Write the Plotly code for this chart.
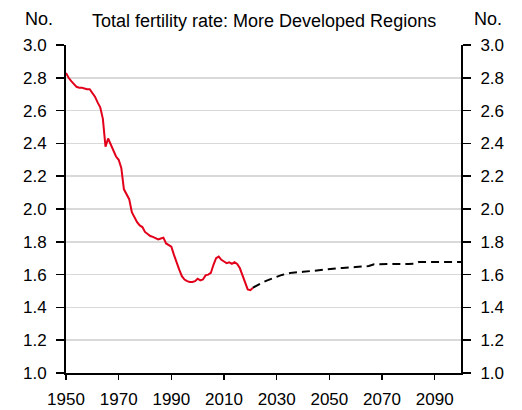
import plotly.graph_objects as go

# Historical (red) annual total fertility rate, More Developed Regions
hist_years = list(range(1950, 2022))
hist_values = [
    2.83, 2.80, 2.78, 2.76, 2.745, 2.74, 2.74, 2.735, 2.73, 2.73,   # 1950-1959
    2.71, 2.685, 2.65, 2.62, 2.55, 2.38, 2.43, 2.39, 2.35, 2.32,     # 1960-1969
    2.30, 2.25, 2.12, 2.09, 2.06, 1.98, 1.95, 1.92, 1.90, 1.89,      # 1970-1979
    1.86, 1.845, 1.835, 1.83, 1.82, 1.815, 1.82, 1.825, 1.79, 1.78,  # 1980-1989
    1.77, 1.72, 1.67, 1.63, 1.59, 1.57, 1.56, 1.555, 1.555, 1.56,    # 1990-1999
    1.575, 1.565, 1.57, 1.595, 1.60, 1.61, 1.66, 1.70, 1.71, 1.69,   # 2000-2009
    1.68, 1.67, 1.675, 1.665, 1.675, 1.665, 1.64, 1.60, 1.56, 1.51,  # 2010-2019
    1.505, 1.52,                                                      # 2020-2021
]

# Projection (black dashed)
proj_years = [2021, 2022, 2024, 2026, 2028, 2030, 2032, 2034, 2036, 2040,
              2045, 2050, 2055, 2060, 2065, 2067, 2070, 2075, 2080, 2082,
              2084, 2090, 2095, 2100]
proj_values = [1.52, 1.53, 1.547, 1.562, 1.575, 1.588, 1.598, 1.606, 1.612, 1.617,
               1.625, 1.635, 1.641, 1.646, 1.652, 1.663, 1.665, 1.665, 1.665, 1.666,
               1.677, 1.677, 1.677, 1.677]

x_ticks = [1950, 1970, 1990, 2010, 2030, 2050, 2070, 2090]
title_text = "Total fertility rate: More Developed Regions"
unit_label = "No."

FONT = "Liberation Sans, Arial, sans-serif"
TICK_SIZE = 17
TEXT_SIZE = 18

fig = go.Figure()
fig.add_trace(go.Scatter(x=hist_years, y=hist_values, mode="lines",
                         line=dict(color="#e2001a", width=2), showlegend=False,
                         hoverinfo="skip"))
fig.add_trace(go.Scatter(x=proj_years, y=proj_values, mode="lines",
                         line=dict(color="black", width=2, dash="8px,5px"),
                         showlegend=False, hoverinfo="skip"))
# dummy trace on right axis so it is drawn
fig.add_trace(go.Scatter(x=[None], y=[None], yaxis="y2", showlegend=False))

yaxis_common = dict(range=[1, 3], dtick=0.2, tick0=1, tickformat=".1f",
                    showline=True, linecolor="black", linewidth=2,
                    ticks="outside", ticklen=8, tickwidth=1.5, tickcolor="black",
                    tickfont=dict(family=FONT, size=TICK_SIZE, color="black"),
                    zeroline=False, fixedrange=True, automargin=False,
                    ticklabelstandoff=6)

W, H = 522, 410
l, r, t, b = 66, 61, 45, 37

fig.update_layout(
    width=W, height=H,
    margin=dict(l=l, r=r, t=t, b=b, autoexpand=False),
    paper_bgcolor="white", plot_bgcolor="white",
    font=dict(family=FONT, size=TEXT_SIZE, color="black"),
    xaxis=dict(range=[1950, 2100], tickvals=x_ticks, showgrid=False,
               showline=True, linecolor="black", linewidth=2,
               ticks="outside", ticklen=5, tickwidth=1.5, tickcolor="black",
               tickfont=dict(family=FONT, size=TICK_SIZE, color="black"),
               zeroline=False, automargin=False, ticklabelstandoff=5,
               fixedrange=True),
    yaxis=dict(side="left", showgrid=True, gridcolor="#d9d9d9", gridwidth=1.5,
               **yaxis_common),
    yaxis2=dict(side="right", overlaying="y", showgrid=False, **yaxis_common),
)

pw, ph = W - l - r, H - t - b
def px(x): return (x - l) / pw
def py(y): return (H - b - y) / ph

fig.add_annotation(text=title_text, x=px(264), y=py(21), xref="paper", yref="paper",
                   showarrow=False, xanchor="center", yanchor="middle",
                   font=dict(family=FONT, size=TEXT_SIZE, color="black"))
fig.add_annotation(text=unit_label, x=px(39), y=py(19), xref="paper", yref="paper",
                   showarrow=False, xanchor="center", yanchor="middle",
                   font=dict(family=FONT, size=TEXT_SIZE, color="black"))
fig.add_annotation(text=unit_label, x=px(488), y=py(19), xref="paper", yref="paper",
                   showarrow=False, xanchor="center", yanchor="middle",
                   font=dict(family=FONT, size=TEXT_SIZE, color="black"))

fig.write_html("out.html", config={"displayModeBar": False, "staticPlot": True},
               post_script="document.body.style.margin='0px';")
